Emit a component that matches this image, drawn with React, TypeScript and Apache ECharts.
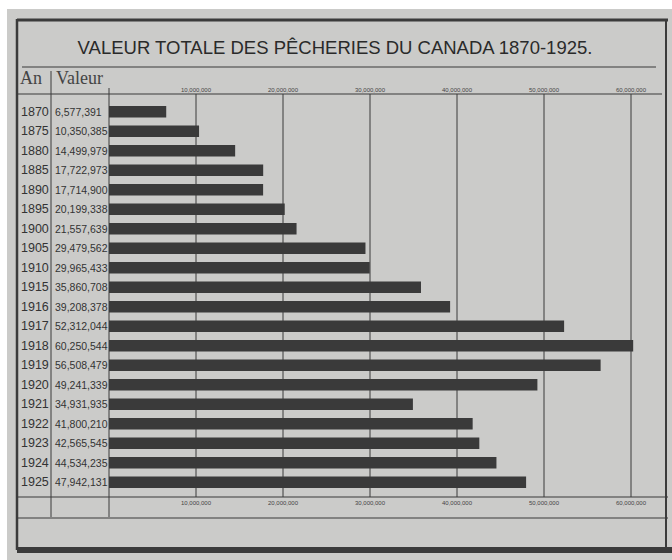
import { useEffect, useRef } from 'react';
import * as echarts from 'echarts';

const years = ['1870', '1875', '1880', '1885', '1890', '1895', '1900', '1905', '1910', '1915', '1916', '1917', '1918', '1919', '1920', '1921', '1922', '1923', '1924', '1925'];
const values = [6577391, 10350385, 14499979, 17722973, 17714900, 20199338, 21557639, 29479562, 29965433, 35860708, 39208378, 52312044, 60250544, 56508479, 49241339, 34931935, 41800210, 42565545, 44534235, 47942131];
const tickValues = [10000000, 20000000, 30000000, 40000000, 50000000, 60000000];
const titleText = 'VALEUR TOTALE DES PÊCHERIES DU CANADA 1870-1925.';
const headerYear = 'An';
const headerValue = 'Valeur';

const fmt = (v: number) => v.toLocaleString('en-US');

export default function App() {
  const ref = useRef<HTMLDivElement>(null);
  useEffect(() => {
    const chart = echarts.init(ref.current!, null, { renderer: 'svg' });
    const ink = '#3b3b3b';
    const line = (x1: number, y1: number, x2: number, y2: number, w = 1) => ({
      type: 'line', silent: true, z: 50,
      shape: { x1, y1, x2, y2 },
      style: { stroke: ink, lineWidth: w },
    });
    const axisLabelBase = {
      formatter: (v: number) => (v === 0 ? '' : fmt(v)),
      fontSize: 6,
      color: '#444',
      fontFamily: 'Liberation Sans',
    };
    chart.setOption({
      animation: false,
      backgroundColor: '#ffffff',
      grid: { left: 109, right: 41, top: 102, height: 390 },
      xAxis: [
        {
          type: 'value', position: 'top', min: 0, max: 60000000, interval: 10000000,
          splitLine: { show: false }, axisLine: { show: false }, axisTick: { show: false },
          axisLabel: { ...axisLabelBase, margin: 9 },
        },
        {
          type: 'value', position: 'bottom', min: 0, max: 60000000, interval: 10000000,
          splitLine: { show: false }, axisLine: { show: false }, axisTick: { show: false },
          axisLabel: { ...axisLabelBase, margin: 8 },
        },
      ],
      yAxis: {
        type: 'category', data: years, inverse: true,
        axisLine: { show: false }, axisTick: { show: false }, splitLine: { show: false },
        axisLabel: {
          margin: 2,
          formatter: (v: string, i: number) => `{y|${v}}{v|${fmt(values[i])}}`,
          rich: {
            y: { width: 34, padding: [0, 0, 0, 3], fontSize: 12.5, fontFamily: 'Liberation Sans', color: '#333', align: 'left' },
            v: { width: 52, fontSize: 10.5, fontFamily: 'Liberation Sans', color: '#333', align: 'left' },
          },
        },
      },
      series: [
        {
          type: 'bar', data: values, barWidth: 11.5, clip: false, xAxisIndex: 0,
          itemStyle: { color: '#3a3a3a' },
        },
      ],
    });

    const gridLines = tickValues.map((v) => {
      const x = chart.convertToPixel({ xAxisIndex: 0 }, v) as number;
      return line(x, 94, x, 497, 1);
    });

    chart.setOption({
      graphic: [
        { type: 'rect', silent: true, z: -100, shape: { x: 7, y: 9, width: 665, height: 551 }, style: { fill: '#cbcbc9' } },
        line(17, 20, 668, 20, 3),
        line(17, 19, 17, 550, 2.5),
        line(666, 19, 666, 552, 2),
        line(22, 67, 656, 67, 1.2),
        line(51, 71, 51, 517, 1),
        line(109, 88, 109, 517, 1),
        line(17, 94, 662, 94, 1.2),
        line(17, 497, 668, 497, 1.2),
        line(17, 518, 668, 518, 1.2),
        { type: 'rect', silent: true, z: 50, shape: { x: 17, y: 547, width: 655, height: 6 }, style: { fill: ink } },
        {
          type: 'text', silent: true, z: 60, x: 335, y: 47,
          style: { text: titleText, fontSize: 18.5, fontFamily: 'Liberation Sans', fill: '#2a2a2a', align: 'center', verticalAlign: 'middle' },
        },
        {
          type: 'text', silent: true, z: 60, x: 20, y: 78,
          style: { text: headerYear, fontSize: 18, fontFamily: 'Liberation Serif', fill: '#444', align: 'left', verticalAlign: 'middle' },
        },
        {
          type: 'text', silent: true, z: 60, x: 56, y: 78,
          style: { text: headerValue, fontSize: 18, fontFamily: 'Liberation Serif', fill: '#444', align: 'left', verticalAlign: 'middle' },
        },
        ...gridLines,
      ],
    });
    return () => chart.dispose();
  }, []);
  return <div ref={ref} style={{ position: 'fixed', left: 0, top: 0, width: 672, height: 560 }} />;
}
